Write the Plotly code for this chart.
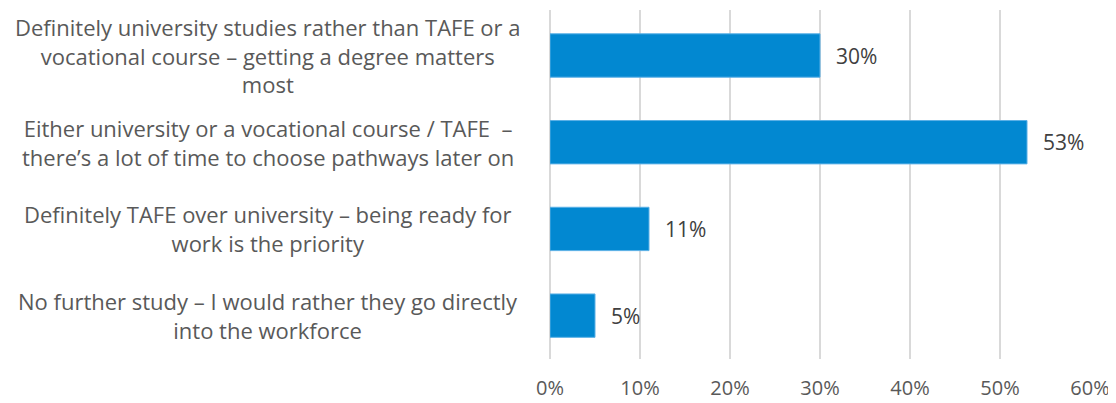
import plotly.graph_objects as go

categories = [
    "Definitely university studies rather than TAFE or a<br>vocational course – getting a degree matters<br>most",
    "Either university or a vocational course / TAFE  –<br>there’s a lot of time to choose pathways later on",
    "Definitely TAFE over university – being ready for<br>work is the priority",
    "No further study – I would rather they go directly<br>into the workforce",
]
values = [30, 53, 11, 5]
value_labels = ["30%", "53%", "11%", "5%"]
tick_vals = [0, 10, 20, 30, 40, 50, 60]
tick_text = ["0%", "10%", "20%", "30%", "40%", "50%", "60%"]

FONT = "Open Sans"
TEXT = "#595959"

fig = go.Figure()
fig.add_trace(go.Bar(
    x=values, y=categories, orientation="h",
    marker=dict(color="#0288D1", line=dict(color="#5AB0E6", width=1)),
    hoverinfo="skip",
))

for c, v, t in zip(categories, values, value_labels):
    fig.add_annotation(x=v, y=c, xref="x", yref="y", text=t, showarrow=False,
                       xanchor="left", xshift=14, font=dict(family=FONT, size=21, color="#404040"))
    fig.add_annotation(x=-0.522, y=c, xref="paper", yref="y", text=c, showarrow=False,
                       xanchor="center", align="center",
                       font=dict(family=FONT, size=22, color=TEXT))

fig.update_layout(
    width=1108, height=395,
    margin=dict(l=542, r=26, t=2, b=40),
    paper_bgcolor="white", plot_bgcolor="white",
    bargap=0.5,
    showlegend=False,
    font=dict(family=FONT, size=20, color=TEXT),
    xaxis=dict(range=[0, 60], tickvals=tick_vals, ticktext=tick_text,
               showgrid=True, gridcolor="#D9D9D9", gridwidth=1.5,
               zeroline=True, zerolinecolor="#D9D9D9", zerolinewidth=1.5,
               showline=False, ticklabelstandoff=15,
               tickfont=dict(family=FONT, size=20, color=TEXT)),
    yaxis=dict(autorange="reversed", showticklabels=False, showgrid=False,
               showline=False),
)

fig.write_html("out.html")
